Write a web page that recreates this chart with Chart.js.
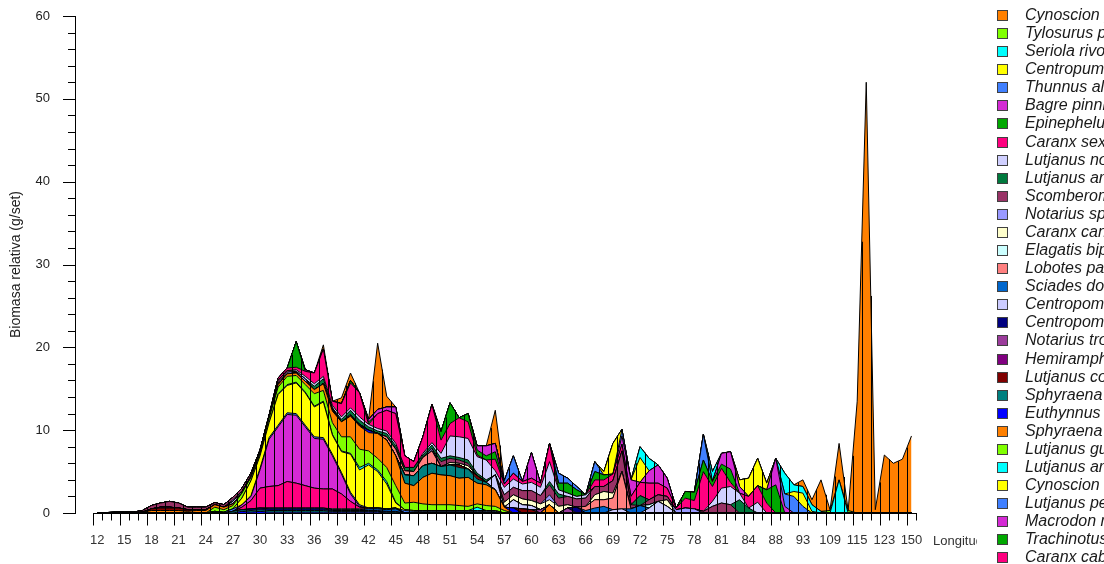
<!DOCTYPE html>
<html><head><meta charset="utf-8">
<script src="https://cdn.jsdelivr.net/npm/chart.js@4"></script>
<style>html,body{margin:0;padding:0;background:#fff;}canvas{display:block;}</style>
</head><body>
<canvas id="c" width="1104" height="564"></canvas>
<script>
const categories = [12,13,14,15,16,17,18,19,20,21,22,23,24,25,26,27,28,29,30,31,32,33,34,35,36,37,38,39,40,41,42,43,44,45,46,47,48,49,50,51,52,53,54,55,56,57,58,59,60,61,62,63,64,65,66,67,68,69,70,71,72,73,74,75,76,77,78,79,80,81,82,83,84,86,87,88,90,91,93,97,103,109,111,113,115,118,120,123,130,140,150];
const labelIndices = [0,3,6,9,12,15,18,21,24,27,30,33,36,39,42,45,48,51,54,57,60,63,66,69,72,75,78,81,84,87,90];
const yTitle = 'Biomasa relativa (g/set)';
const xTitle = 'Longitud (cm)';

const cynoscionPhox = [0,0,0,0,0,0,0,0,0,0, 0,0,0,0,0,0,0,0,0,0, 0,0,0,0,0,0.5,0,0.7,0.9,0, 0,8,1.3,0,0,0,0,0,0,0, 0,0,0,0,4,0,0,0,0,0, 0,0,0,0,0,0,0,0,0,0, 0,0,0,0,0,0,0,0,0,0, 0,0,0,0,0,0,0,0,0.8,0.6, 3.8,0.1,4.4,0,13.5,52,0.4,7,6,6.5, 9.3];
const tylosurus = [0,0,0,0,0,0,0,0,0,0, 0,0,0,0,0,0,0,0,0,0, 0,0,0,0,0,0,0,0,0,0, 0,0,0,0,0,0,0,0,0,0, 0,0,0,0,0,0,0,0,0,0, 0,0,0,0,0,0,0,0,0,0, 0,0,0,0,0,0,0,0,0,0, 0,0,0,0,0,0,0,0,0,0, 0,0.3,0,0.3,0,0,0,0,0,0, 0];
const seriola = [0,0,0,0,0,0,0,0,0,0, 0,0,0,0,0,0,0,0,0,0, 0,0,0,0,0,0,0,0,0,0, 0,0,0,0,0,0,0,0,0,0, 0,0,0,0,0,0,0,0,0,0, 0,0,0,0,0,0,0,0,0,0, 1.3,1.5,0,0,0,0,0,0,1.2,0, 0,0,0,0,0,0,2.5,0.8,0.8,0.8, 0.2,0,4,0,0,0,0,0,0,0, 0];
const centropum = [0,0,0,0,0,0,0,0,0,0, 0,0,0,0,0,0,0,0,0,0, 0,0,0,0,0,0,0,0,0,0, 0,0,0,0,0,0,0,0,0,0, 0,0,0,0,0,0,0,0,0,0, 0,0,0,0,0,0,0.4,3.7,0,0, 3,0,0,0,0,0,0,0,0,0, 0,0.8,2.2,3.3,0.8,0,0,0.6,1.6,0.2, 0,0,0,0,0,0,0,0,0,0, 0];
const thunnus = [0,0,0,0,0,0,0,0,0,0, 0,0,0,0,0,0,0,0,0,0, 0,0,0,0,0,0,0,0,0,0, 0,0,0,0,0,0,0,0,0,0, 0,0,0,0,0,0.4,2.1,0,0,0, 0,1.2,0.6,0.4,0,1.2,0,0,0.8,0, 0,0,0,0,0,0,0,3.1,0,0, 0,0,0,0,0,0,1.5,2,0.8,0, 0,0,0,0,0,0,0,0,0,0, 0];
const bagre = [0,0,0,0,0,0,0,0,0,0, 0,0,0,0,0,0,0,0,0,0, 0,0,0,0.2,0,0,0,0,0,0, 0.3,0.5,0.4,0.8,0,0,0,0,0,0, 0,0,0.5,1.2,1,0,0,0,3.1,0, 0,0,0,0,0,0,0,0,1,2, 0,1.5,2.2,1.2,0,0,0,0,0,1.3, 2.1,0.8,0,0,0,3.2,0.8,0,0,0, 0,0,0,0,0,0,0,0,0,0, 0];
const epinephelus = [0,0,0,0,0,0,0,0,0,0, 0,0,0,0,0,0,0,0,0,0, 0,0,3.1,0,0,0,0,0,0.3,0, 0.3,0,0,0,0,0,0,0,1,2.5, 0,1,0.6,0.5,0.9,0,0,0,0,0, 0,0.8,1.2,0.8,0,1,0.6,0,0,0, 0,0,0,0,0,0.8,1,1.4,0.6,0.5, 1.6,0,0,0,1.6,3.4,0,0,0,0, 0,0,0,0,0,0,0,0,0,0, 0];
const caranxSex = [0,0,0,0,0,0,0,0,0,0, 0,0,0,0,0,0,0,0,0,0, 0.3,0.3,0.3,0.6,1.3,3.3,0.5,1.6,3,2.9, 0,1.8,2.5,3.6,1.4,0.7,2,4.6,1.6,1.5, 2.3,2,0.2,0,1.4,0.4,0.7,0.3,0.5,0.5, 2.2,0,0,0,0,0.8,0.8,0.8,0.8,1, 1.6,2,1.4,1,0.2,1.2,1,4.8,1.8,2.4, 0.5,0,1.4,2,1.2,0,0,0,0,0, 0,0,0,0,0,0,0,0,0,0, 0];
const lutjanusNov = [0,0,0,0,0,0,0,0,0,0, 0,0,0,0,0,0,0,0,0,0, 0,0,0.2,0.3,0.3,0.3,0.3,0.3,0.3,0.4, 0.3,0.3,0.3,0.3,0,0,0.2,0.3,0.6,2.4, 2.5,2.6,2,2.4,0.5,0.9,1,0.8,1,1, 2.4,0.5,0.4,0.3,0.4,0,0,0,0,0, 0,0,0,0,0,0,0,0,0.6,1.8, 2.2,0.8,0,1.3,0,0,0,0,0,0, 0,0,0,0,0,0,0,0,0,0, 0];
const lutjanusArg = [0,0,0,0,0,0,0,0,0,0, 0,0,0,0,0,0,0,0,0,0, 0,0,0,0,0.4,0.6,0,0.3,0.5,0.5, 0.4,0.3,0.4,0.4,0.4,0.5,0.3,0.4,0.4,0.3, 0.3,0.4,0.3,0.3,0,0,0,0,0,0, 0.4,0.5,0,0,0,0,0,0,0,0, 1.2,0,0,0,0,0,0,0,0,0, 0,1.6,0.6,0,0,0,0,0,0,0, 0,0,0,0,0,0,0,0,0,0, 0];
const scomberomorus = [0.05,0.05,0.1,0.1,0.1,0.2,0.4,0.5,0.7,0.6, 0.3,0.3,0.3,0.25,0.3,0.3,0.4,0.4,0.3,0.3, 0.3,0.2,0,0,0,0,0.2,0,0,0, 0,0,0,0,0,0,0,0,0.6,0.5, 0.4,0.3,0,0,0,0.9,0.9,1,1.2,1, 1.2,1,1,1,1,1,0.6,1.5,2.5,0.5, 0,0.6,0.8,0.4,0,0,0,0.2,0.8,1.2, 1,0,0,0,0,0,0,0,0,0, 0,0,0,0,0,0,0,0,0,0, 0];
const notariusSp = [0,0,0,0,0,0,0,0,0,0, 0,0,0,0,0,0.2,0,0,0,0, 0.2,0.2,0.2,0.3,0,0,0,0,0.2,0, 0,0,0,0,0,0,0,0.3,0,0, 0,0,0,0,0,0,0,0,0,0, 0.6,0,0,0,0,0,0,0,0,0, 0,0,0,0,0.4,0.6,0.5,0,0,0, 0,0,0,0,0,0,0,0,0,0, 0,0,0,0,0,0,0,0,0,0, 0];
const caranxCan = [0,0,0,0,0,0,0,0,0,0, 0,0,0,0,0,0,0,0,0,0, 0,0,0,0,0,0,0,0,0,0, 0,0,0,0,0,0,0,0,0,0.3, 0.2,0.4,0,0,0,0.6,0.6,0.7,0.6,0.7, 0.6,0.8,0.4,0,0,0.6,1,0.6,0,0, 0,0,0,0.8,0,0,0,0,0,0, 0,0,0,0,0,0,0,0,0,0, 0,0,0,0,0,0,0,0,0,0, 0];
const elagatis = [0,0,0,0,0,0,0,0,0,0, 0,0,0,0,0,0,0,0,0,0, 0,0,0,0,0,0,0,0,0,0, 0,0,0,0,0,0,0,0,0,0, 0,0,0,0,0,0,0,0,0,0, 0,0,0,0,0,0,0,0,0,0, 0,0.4,0,0,0,0,0,0,0,0, 0,0,0,0,0,0,0,0,0,0, 0,0,0,0,0,0,0,0,0,0, 0];
const lobotes = [0,0,0,0,0,0,0,0,0,0, 0,0,0,0,0,0,0,0,0,0, 0,0,0,0,0,0,0,0,0,0, 0,0,0.4,0.8,0.5,0.5,1,1.5,0,0, 0,0,0,0,0,0,0,0,0,0, 0,0,0,0,0.5,1,0.8,1.4,4.5,0, 0,0,0,0,0,0,0,0,0,0, 0,0,0,0,0,0,0,0,0,0, 0,0,0,0,0,0,0,0,0,0, 0];
const sciades = [0,0,0,0,0,0,0,0,0,0, 0,0,0,0,0,0,0,0,0,0, 0,0,0,0,0,0,0.2,0,0,0, 0,0,0,0,0,0,0,0,0,0, 0,0,0,0,0,0,0,0,0,0, 0,0,0,0,0.3,0.6,0.8,0,0,0.5, 0.9,0,0,0,0,0,0,0,0,0, 0,0,0,0,0,0,0,0,0,0, 0,0,0,0,0,0,0,0,0,0, 0];
const centropomusRob = [0,0,0,0,0,0,0,0,0,0, 0,0,0,0,0,0.3,0.2,0,0,0, 0,0,0,0,0,0,0,0,0,0, 0,0,0,0,0,0,0,0,0,0, 0,0,0,0,1.8,0,1,0.5,0.5,0, 0,0,0,0,0,0,0,0.4,0.5,0, 0,0.6,1.4,0.8,0,0,0,0,0,0, 0,0,0,0,0,0,0,0,0,0, 0,0,0,0,0,0,0,0,0,0, 0];
const centropomusMed = [0,0,0,0,0,0,0,0,0,0, 0,0,0,0,0,0,0,0,0,0, 0,0,0,0,0,0,0,0,0,0.2, 0,0,0,0,0,0,0,0,0,0, 0,0,0,0,0,0,0,0,0,0, 0,0,0,0.7,0,0,0,0,0,0, 0,0,0,0,0,0,0,0,0,0, 0,0,0,0,0,0,0,0,0,0, 0,0,0,0,0,0,0,0,0,0, 0];
const notariusTro = [0,0,0,0,0,0,0,0,0,0, 0,0,0,0,0,0,0,0,0,0, 0,0,0,0,0,0,0,0,0,0, 0,0,0,0,0,0,0,0,0,0, 0,0,0,0,0,0,0,0,0,0.4, 0,0,0.6,0,0,0,0,0,0,0, 0,0,0,0,0,0,0,0,0,0, 0,0,0,0,0,0,0,0,0,0, 0,0,0,0,0,0,0,0,0,0, 0];
const hemiramphus = [0,0,0,0,0,0,0,0.1,0.1,0, 0,0,0,0,0,0,0,0,0,0, 0,0,0,0,0,0,0,0,0,0, 0,0,0,0,0,0,0,0,0,0, 0,0,0,0,0,0,0,0,0,0, 0,0,0,0,0,0,0,0,0,0, 0,0,0,0,0,0,0,0,0,0, 0,0,0,0,0,0,0,0,0,0, 0,0,0,0,0,0,0,0,0,0, 0];
const lutjanusCol = [0,0,0,0,0,0,0.2,0.3,0.3,0.3, 0.2,0.1,0.1,0,0,0,0,0,0,0, 0,0,0,0,0,0,0,0,0,0, 0,0,0,0,0,0,0,0,0,0, 0.3,0,0.4,0,0,0,0,0.5,0.4,0, 0,0,0,0,0,0,0,0,0,0, 0,0,0,0,0,0,0,0,0,0, 0,0,0,0,0,0,0,0,0,0, 0,0,0,0,0,0,0,0,0,0, 0];
const sphyraenaEns = [0,0,0,0,0,0,0,0,0,0, 0,0,0,0,0,0,0,0,0,0, 0,0,0,0,0,0,0,0,0,0, 0,0,0,0,1,1.2,1.4,1.2,1,1.3, 1.3,1,0.5,0.3,0,0,0,0,0,0, 0,0,0,0,0,0,0,0,0,0, 0,0,0,0,0,0,0,0,0,0, 0,0,0,0,0,0,0,0,0,0, 0,0,0,0,0,0,0,0,0,0, 0];
const euthynnus = [0,0,0,0,0,0,0,0,0,0, 0,0,0,0,0,0,0,0,0,0, 0,0,0,0,0,0,0,0,0,0, 0.3,0,0,0,0,0,0,0,0,0, 0,0,0,0,0,0,0.6,0,0,0, 0,0,0,0,0,0,0,0,0,0, 0,0,0,0,0,0,0,0,0,0, 0,0,0,0,0,0,0,0,0,0, 0,0,0,0,0,0,0,0,0,0, 0];
const sphyraenaIdi = [0,0,0,0,0,0.1,0.3,0.3,0.3,0.3, 0.2,0.3,0.3,0.3,0.3,0.2,0,0.1,0.1,0.1, 0.3,0.3,0.3,0.4,0.5,0.8,1.4,1.8,2.5,2.8, 2.2,3,3.3,3.6,2.4,2,3.2,3.8,3.6,3.5, 3.3,3.5,2.5,2.5,2,0.4,0,0,0,0, 1,0,0,0,0,0,0,0,0,0, 0,0,0,0,0,0,0,0,0,0, 0,0,0,0,0,0,0,0,0,0, 0,0,0,0,0,0,0,0,0,0, 0];
const lutjanusGut = [0,0,0,0,0,0,0,0,0,0, 0,0,0,0.5,0.3,0.4,0.6,0.4,0.3,0.5, 0.8,1,0.8,0.9,1.5,1.3,1.4,1.7,2,2.2, 1.5,1.4,1.7,2,0.8,1,0.8,0.7,0.7,0.7, 0.6,0.5,0.4,0.6,0.5,0.3,0,0,0,0, 0,0,0,0,0,0,0,0,0,0, 0,0,0,0,0,0,0,0,0,0, 0,0,0,0,0,0,0,0,0,0, 0,0,0,0,0,0,0,0,0,0, 0];
const lutjanusAra = [0,0,0,0,0,0,0,0,0,0, 0,0,0,0,0,0,0,0,0,0, 0.1,0.1,0.1,0.1,0.1,0.1,0.1,0.1,0.1,0.3, 0.2,0.2,0.3,0.1,0,0,0,0,0,0, 0,0,0.4,0,0,0,0,0,0,0, 0,0,0,0,0,0,0,0,0,0, 0,0,0,0,0,0,0,0,0,0, 0,0,0,0,0,0,0,0,0,0, 0,0,0,0,0,0,0,0,0,0, 0];
const cynoscionAlb = [0,0,0,0,0,0,0,0,0,0, 0,0,0,0,0,0,0.8,1.8,1.5,1.8, 3.7,3.3,3.7,3.9,3.6,4.3,2.3,2.5,4.6,4.2, 5.2,4.4,3,0.6,0.1,0.1,0.1,0.1,0.1,0.1, 0.1,0.1,0.1,0.1,0.1,0,0,0,0,0, 0,0,0,0,0,0,0,0,0,0, 0,0,0,0,0,0,0,0,0,0, 0,0,0,0,0,0,0,0,0,0, 0,0,0,0,0,0,0,0,0,0, 0];
const lutjanusPeru = [0,0,0,0,0,0,0,0,0,0, 0,0,0,0,0.1,0.3,0,0.1,0.2,0.2, 0.2,0.2,0.2,0.2,0.2,0.2,0.2,0.2,0.2,0.2, 0,0,0,0,0.3,0.2,0.2,0.2,0.2,0.2, 0.2,0.2,0.2,0.2,0.2,0,0,0,0,0, 0,0,0,0,0,0,0,0,0,0, 0,0,0,0,0,0,0,0,0,0, 0,0,0,0,0,0,0,0,0,0, 0,0,0,0,0,0,0,0,0,0, 0];
const macrodon = [0,0,0,0,0,0,0,0,0,0, 0,0,0,0,0,0,0.3,0.5,2.2,5.7, 7.1,8.1,8.2,7.1,6,6,4,2.4,0.9,0.1, 0,0,0,0,0,0,0,0,0,0, 0,0,0,0,0,0,0,0,0,0, 0,0,0,0,0,0,0,0,0,0, 0,0,0,0,0,0,0,0,0,0, 0,0,0,0,0,0,0,0,0,0, 0,0,0,0,0,0,0,0,0,0, 0];
const trachinotus = [0,0,0,0,0,0,0,0,0,0, 0,0,0,0.2,0,0,0,0,0,0, 0,0,0,0,0,0,0,0,0,0, 0,0,0,0,0,0,0,0,0,0, 0,0,0,0,0,0,0,0,0,0, 0,0,0,0,0,0,0,0,0,0, 0,0,0,0,0,0,0,0,0,0, 0,0,0,0,0,0,0,0,0,0, 0,0,0,0,0,0,0,0,0,0, 0];
const caranxCab = [0,0,0,0,0,0,0,0,0,0, 0,0,0,0,0,0,0.3,1,2.4,2.6, 2.7,3.2,3,2.7,2.4,2.3,2.4,1.8,0.9,0.2, 0.1,0,0,0,0,0,0,0,0,0, 0,0,0,0,0,0,0,0,0,0, 0,0,0,0,0,0,0,0,0,0, 0,0,0,0,0,0,0,0,0,0, 0,0,0,0,0,0,0,0,0,0, 0,0,0,0,0,0,0,0,0,0, 0];
const lutjanusJor = [0,0,0,0,0,0,0,0,0,0, 0,0,0,0,0,0,0,0,0,0, 0,0,0,0,0,0,0.1,0.1,0.1,0.1, 0,0.1,0.1,0.1,0,0,0,0,0,0, 0,0,0,0,0,0,0,0,0,0, 0,0,0,0,0,0,0,0,0,0, 0,0,0,0,0,0,0,0,0,0, 0,0,0,0,0,0,0,0,0,0, 0,0,0,0,0,0,0,0,0,0, 0];
const bagrePanam = [0,0,0,0,0,0,0,0,0,0, 0,0,0,0,0,0,0,0,0,0.1, 0.1,0.1,0.1,0.1,0.1,0.1,0.1,0.1,0.1,0.1, 0.2,0.2,0.2,0.3,0,0,0,0,0,0, 0,0,0,0,0,0,0,0,0,0, 0,0,0,0,0,0,0,0,0,0, 0,0,0,0,0,0,0,0,0,0, 0,0,0,0,0,0,0,0,0,0, 0,0,0,0,0,0,0,0,0,0, 0];
const centropomusNig = [0,0,0,0,0,0,0,0,0,0, 0,0,0,0,0,0,0,0.2,0.2,0.2, 0.2,0.2,0.2,0.2,0.2,0.2,0.1,0.1,0.1,0.1, 0.1,0.1,0.1,0.1,0,0,0,0,0,0, 0,0,0,0,0,0,0,0,0,0, 0,0,0,0,0,0,0,0,0,0, 0,0,0,0,0,0,0,0,0,0, 0,0,0,0,0,0,0,0,0,0, 0,0,0,0,0,0,0,0,0,0, 0];
const sphyraenaLuc = [0,0,0,0,0,0,0,0,0,0, 0,0,0,0,0,0.2,0.2,0.2,0.2,0.2, 0.2,0.2,0.2,0.2,0.2,0.2,0.1,0.1,0.1,0.1, 0.1,0.1,0.1,0.1,0,0,0,0,0,0, 0,0,0,0,0,0,0,0,0,0, 0,0,0,0,0,0,0,0,0,0, 0,0,0,0,0,0,0,0,0,0, 0,0,0,0,0,0,0,0,0,0, 0,0,0,0,0,0,0,0,0,0, 0];
const auxisThaz = [0,0,0,0,0,0,0,0,0,0, 0,0,0,0,0,0,0.2,0.1,0.2,0.1, 0.1,0.1,0.1,0.1,0.1,0.1,0.1,0.1,0.1,0.1, 0.1,0.1,0,0,0,0,0,0,0,0, 0,0,0,0,0,0,0,0,0,0, 0,0,0,0,0,0,0,0,0,0, 0,0,0,0,0,0,0,0,0,0, 0,0,0,0,0,0,0,0,0,0, 0,0,0,0,0,0,0,0,0,0, 0];

const seriesNames = ['Cynoscion phoxocephalus','Tylosurus pacificus','Seriola rivoliana','Centropumus armatus','Thunnus albacares','Bagre pinnimaculatus','Epinephelus analogus','Caranx sexfasciatus','Lutjanus novemfasciatus','Lutjanus argentiventris','Scomberomorus sierra','Notarius sp.','Caranx caninus','Elagatis bipinnulata','Lobotes pacificus','Sciades dowii','Centropomus robalito','Centropomus medius','Notarius troschelii','Hemiramphus saltator','Lutjanus colorado','Sphyraena ensis','Euthynnus lineatus','Sphyraena idiastes','Lutjanus guttatus','Lutjanus aratus','Cynoscion albus','Lutjanus peru','Macrodon mancus','Trachinotus rhodopus','Caranx caballus','Lutjanus jordani','Bagre panamensis','Centropomus nigrescens','Sphyraena lucasana','Auxis thazard'];
const seriesValues = [cynoscionPhox,tylosurus,seriola,centropum,thunnus,bagre,epinephelus,caranxSex,lutjanusNov,lutjanusArg,scomberomorus,notariusSp,caranxCan,elagatis,lobotes,sciades,centropomusRob,centropomusMed,notariusTro,hemiramphus,lutjanusCol,sphyraenaEns,euthynnus,sphyraenaIdi,lutjanusGut,lutjanusAra,cynoscionAlb,lutjanusPeru,macrodon,trachinotus,caranxCab,lutjanusJor,bagrePanam,centropomusNig,sphyraenaLuc,auxisThaz];
const seriesColors = ['#FF8000','#80FF00','#00FFFF','#FFFF00','#4080FF','#D42AD4','#00A800','#FF0080','#D0D0FF','#007A3D','#993366','#9999FF','#FFFFCC','#CCFFFF','#FF8080','#0066CC','#CCCCFF','#000080','#9B3C9B','#800080','#800000','#008080','#0000FF','#FF8000','#80FF00','#00FFFF','#FFFF00','#4080FF','#D42AD4','#00A800','#FF0080','#007A3D','#0066CC','#000080','#008080','#0000FF'];

const totals = categories.map((_, k) => seriesValues.reduce((a, s) => a + s[k], 0));
const FONT = '"Liberation Sans", Arial, sans-serif';

const datasets = [];
for (let i = seriesNames.length - 1; i >= 0; i--) {
  datasets.push({
    label: seriesNames[i],
    data: seriesValues[i].map((v, k) => ({x: k, y: v})),
    backgroundColor: seriesColors[i],
    borderColor: '#000',
    borderWidth: 1,
    fill: datasets.length === 0 ? 'origin' : '-1',
    pointRadius: 0,
    tension: 0
  });
}

const decor = {
  id: 'decor',
  afterDatasetsDraw(chart) {
    const {ctx, scales: {x, y}} = chart;
    ctx.save();
    ctx.strokeStyle = '#000'; ctx.lineWidth = 1;
    const y0 = y.getPixelForValue(0);
    for (let j = 1; j < totals.length; j++) {
      const top = (totals[j - 1] + totals[j]) / 2;
      if (top <= 0) continue;
      const px = Math.round(x.getPixelForValue(j - 0.5)) + 0.5;
      ctx.beginPath(); ctx.moveTo(px, y0); ctx.lineTo(px, y.getPixelForValue(top)); ctx.stroke();
    }
    ctx.restore();
  },
  afterDraw(chart) {
    const {ctx, scales: {x, y}, chartArea} = chart;
    ctx.save();
    ctx.strokeStyle = '#000'; ctx.lineWidth = 1;
    const y0 = Math.round(y.getPixelForValue(0)) + 0.5;
    const xl = Math.round(x.getPixelForValue(-0.5));
    const xr = Math.round(x.getPixelForValue(categories.length - 0.5));
    ctx.beginPath(); ctx.moveTo(xl, y0); ctx.lineTo(xr + 1, y0); ctx.stroke();
    for (let j = 0; j <= categories.length; j++) {
      const px = Math.round(x.getPixelForValue(j - 0.5)) + 0.5;
      const len = j % 3 === 0 ? 12 : 7;
      ctx.beginPath(); ctx.moveTo(px, y0); ctx.lineTo(px, y0 + len); ctx.stroke();
    }
    const ax = chartArea.left;
    for (let v = 0; v <= 60; v += 2) {
      const py = Math.round(y.getPixelForValue(v)) + 0.5;
      const len = v % 10 === 0 ? 12 : 7;
      ctx.beginPath(); ctx.moveTo(ax - len, py); ctx.lineTo(ax, py); ctx.stroke();
    }
    ctx.save();
    ctx.beginPath(); ctx.rect(920, 525, 57, 35); ctx.clip();
    ctx.fillStyle = '#333'; ctx.font = '13px ' + FONT;
    ctx.textBaseline = 'middle'; ctx.textAlign = 'left';
    ctx.fillText(xTitle, 933, 541);
    ctx.restore();
    ctx.font = 'italic 16px ' + FONT;
    ctx.textBaseline = 'middle'; ctx.textAlign = 'left';
    seriesNames.forEach((name, i) => {
      const top = Math.round(10 + i * 18.08);
      ctx.fillStyle = seriesColors[i];
      ctx.fillRect(997, top, 11, 11);
      ctx.strokeStyle = '#404040';
      ctx.strokeRect(997.5, top + 0.5, 10, 10);
      ctx.fillStyle = '#1a1a1a';
      ctx.fillText(name, 1025, top + 6);
    });
    ctx.restore();
  }
};

new Chart(document.getElementById('c'), {
  type: 'line',
  data: { datasets },
  plugins: [decor],
  options: {
    responsive: false,
    animation: false,
    events: [],
    layout: { padding: { left: 8, right: 188, top: 16, bottom: 1 } },
    plugins: { legend: { display: false }, tooltip: { enabled: false } },
    scales: {
      x: {
        type: 'linear', min: -2.45, max: 90.5,
        afterBuildTicks(s) { s.ticks = labelIndices.map(v => ({ value: v })); },
        afterFit(s) { s.height = 50; s.paddingLeft = 0; s.paddingRight = 0; },
        ticks: { autoSkip: false, maxRotation: 0, padding: 20, color: '#333', font: { family: FONT, size: 13 },
          callback: v => String(categories[v]) },
        grid: { display: false, drawTicks: false },
        border: { display: false }
      },
      y: {
        type: 'linear', min: 0, max: 60, stacked: true,
        afterFit(s) { s.width = 67; s.paddingTop = 0; s.paddingBottom = 0; },
        ticks: { stepSize: 2, autoSkip: false, padding: 25, color: '#222', font: { family: FONT, size: 13 },
          callback: v => (v % 10 === 0 ? String(v) : '') },
        grid: { display: true, drawOnChartArea: false, drawTicks: false },
        border: { display: true, color: '#000', width: 1 },
        title: { display: true, text: yTitle, color: '#222', font: { family: FONT, size: 14 }, padding: 0 }
      }
    }
  }
});
</script>
</body></html>
